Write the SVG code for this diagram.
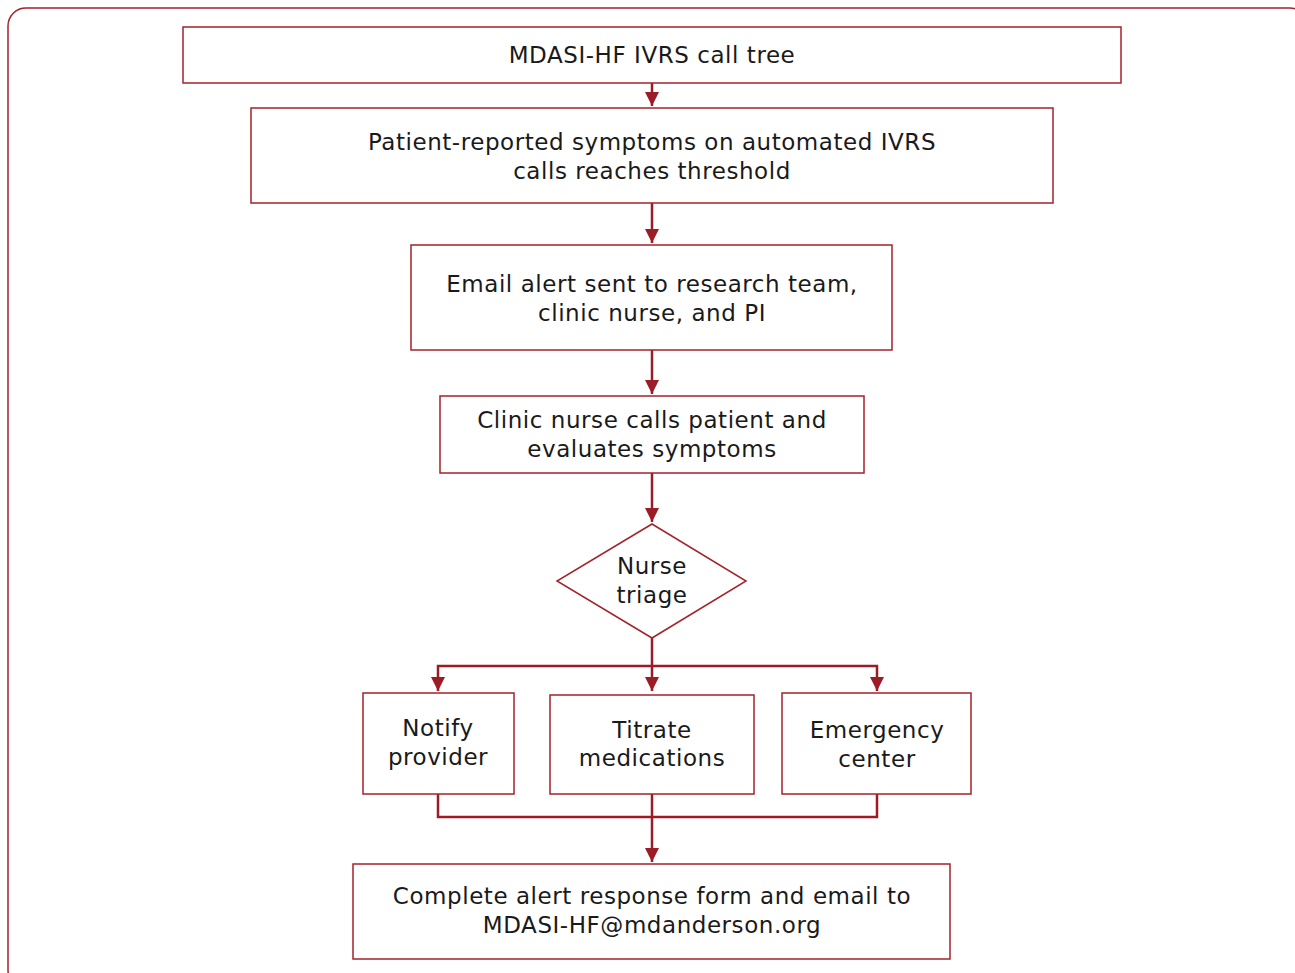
<svg xmlns="http://www.w3.org/2000/svg" width="1295" height="973" viewBox="0 0 1295 973">
<defs>
<style>
.box{fill:#fff;stroke:#a3232b;stroke-width:1.5}
.t{font-family:"DejaVu Sans",sans-serif;font-size:23px;letter-spacing:0.55px;fill:#1a1a1a;text-anchor:middle}
.c{fill:none;stroke:#9b1c24;stroke-width:2.5}
</style>
<marker id="ah" viewBox="0 0 10 10" refX="10" refY="5" markerWidth="14" markerHeight="16" markerUnits="userSpaceOnUse" orient="auto">
<path d="M0,0 L10,5 L0,10 z" fill="#9b1c24"/>
</marker>
</defs>
<rect x="8" y="8" width="1300" height="980" rx="18" fill="none" stroke="#a3232b" stroke-width="1.5"/>
<g id="connectors">
<path class="c" d="M652,83 V106" marker-end="url(#ah)"/>
<path class="c" d="M652,203 V243" marker-end="url(#ah)"/>
<path class="c" d="M652,350 V394" marker-end="url(#ah)"/>
<path class="c" d="M652,473 V522" marker-end="url(#ah)"/>
<path class="c" d="M652,638 V666 H438 V691" marker-end="url(#ah)"/>
<path class="c" d="M652,666 V691" marker-end="url(#ah)"/>
<path class="c" d="M652,666 H877 V691" marker-end="url(#ah)"/>
<path class="c" d="M438,794 V817 H877 V794"/>
<path class="c" d="M652,794 V862" marker-end="url(#ah)"/>
</g>
<g id="n1"><rect class="box" x="183" y="27" width="938" height="56"/><text class="t" x="652" y="63">MDASI-HF IVRS call tree</text></g>
<g id="n2"><rect class="box" x="251" y="108" width="802" height="95"/><text class="t" x="652" y="150">Patient-reported symptoms on automated IVRS</text><text class="t" x="652" y="179">calls reaches threshold</text></g>
<g id="n3"><rect class="box" x="411" y="245" width="481" height="105"/><text class="t" x="652" y="292">Email alert sent to research team,</text><text class="t" x="652" y="321">clinic nurse, and PI</text></g>
<g id="n4"><rect class="box" x="440" y="396" width="424" height="77"/><text class="t" x="652" y="428">Clinic nurse calls patient and</text><text class="t" x="652" y="457">evaluates symptoms</text></g>
<g id="n5"><path class="box" d="M652,524 L746,581 L652,638 L557,581 Z"/><text class="t" x="652" y="574">Nurse</text><text class="t" x="652" y="603">triage</text></g>
<g id="n6"><rect class="box" x="363" y="693" width="151" height="101"/><text class="t" x="438" y="736">Notify</text><text class="t" x="438" y="765">provider</text></g>
<g id="n7"><rect class="box" x="550" y="695" width="204" height="99"/><text class="t" x="652" y="738">Titrate</text><text class="t" x="652" y="766">medications</text></g>
<g id="n8"><rect class="box" x="782" y="693" width="189" height="101"/><text class="t" x="877" y="738">Emergency</text><text class="t" x="877" y="767">center</text></g>
<g id="n9"><rect class="box" x="353" y="864" width="597" height="95"/><text class="t" x="652" y="904">Complete alert response form and email to</text><text class="t" x="652" y="933">MDASI-HF@mdanderson.org</text></g>
</svg>
